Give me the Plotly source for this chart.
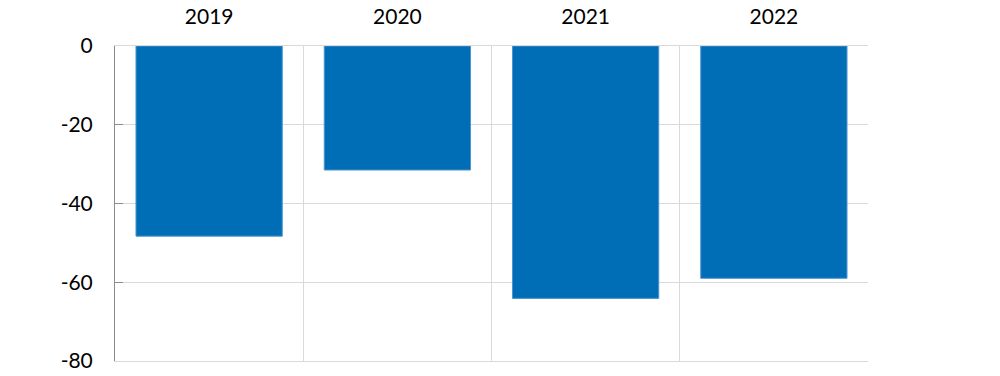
import plotly.graph_objects as go

years = ["2019", "2020", "2021", "2022"]
values = [-48.3, -31.5, -64.1, -59.0]
y_ticks = [0, -20, -40, -60, -80]

fig = go.Figure()
fig.add_trace(go.Bar(
    x=years, y=values,
    marker=dict(color="#006eb6", line=dict(color="#4f94d0", width=1)),
    showlegend=False,
))

fig.update_layout(
    width=1000, height=376,
    margin=dict(l=115, r=132, t=46, b=15),
    paper_bgcolor="white", plot_bgcolor="white",
    bargap=0.223,
    font=dict(family="Lato, 'Open Sans', sans-serif", size=21, color="#000000"),
)
fig.update_xaxes(
    type="category", side="top", tickson="boundaries",
    showgrid=True, gridcolor="#d9d9d9", gridwidth=1,
    ticks="", showline=True, linecolor="#d9d9d9", mirror=True,
    ticklabelstandoff=13, automargin=False,
)
fig.update_yaxes(
    range=[-80, 0], tickvals=y_ticks, ticktext=[str(v) for v in y_ticks],
    showgrid=True, gridcolor="#d9d9d9", gridwidth=1, zeroline=False,
    showline=True, linecolor="#8c8c8c", linewidth=1,
    ticks="inside", ticklen=8, tickcolor="#8c8c8c",
    ticklabelstandoff=17, automargin=False,
)
fig.write_html(
    "out.html",
    config={"displayModeBar": False},
    post_script="document.body.style.margin='0';document.body.style.padding='0';",
)
